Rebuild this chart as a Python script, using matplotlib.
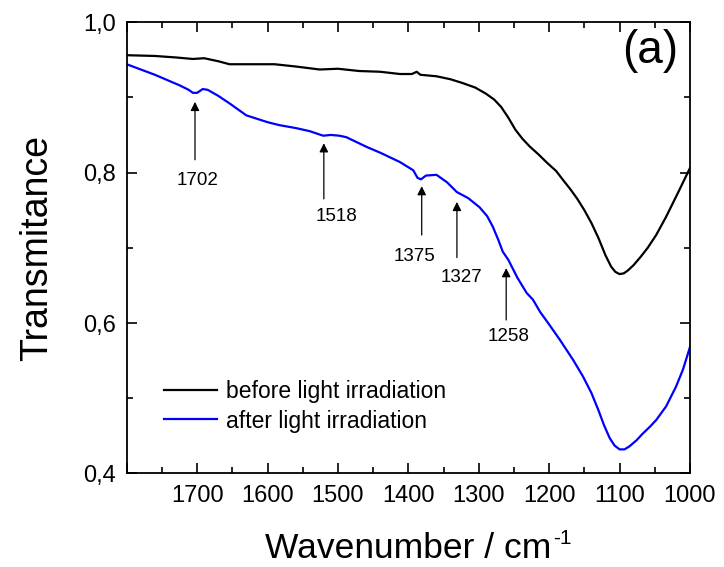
import matplotlib
matplotlib.use("Agg")
import matplotlib.pyplot as plt
from matplotlib.ticker import MultipleLocator, FuncFormatter

plt.rcParams["font.family"] = ["Liberation Sans", "DejaVu Sans"]

# spectrum before irradiation (wavenumber, transmittance)
wn_before = [1800, 1760, 1730, 1706, 1690, 1670, 1654, 1620, 1590, 1560, 1526,
             1500, 1470, 1440, 1412, 1395, 1388, 1383, 1360, 1340, 1323, 1305,
             1290, 1278, 1268, 1258, 1248, 1238, 1228, 1215, 1203, 1190, 1181,
             1170, 1160, 1150, 1140, 1130, 1120, 1112, 1106, 1100, 1094, 1088,
             1080, 1070, 1060, 1048, 1034, 1015, 1000]
t_before = [0.956, 0.955, 0.953, 0.951, 0.952, 0.948, 0.944, 0.944, 0.944, 0.941, 0.937,
            0.938, 0.935, 0.934, 0.931, 0.931, 0.934, 0.930, 0.928, 0.924, 0.919, 0.913,
            0.905, 0.897, 0.887, 0.873, 0.857, 0.845, 0.835, 0.824, 0.813, 0.802, 0.791,
            0.778, 0.765, 0.750, 0.733, 0.713, 0.690, 0.675, 0.668, 0.665, 0.666, 0.670,
            0.677, 0.688, 0.700, 0.717, 0.741, 0.777, 0.806]

# spectrum after irradiation
wn_after = [1800, 1760, 1725, 1712, 1706, 1700, 1692, 1685, 1670, 1654, 1630,
            1600, 1583, 1559, 1540, 1521, 1510, 1498, 1488, 1459, 1439, 1412,
            1393, 1387, 1382, 1375, 1360, 1345, 1331, 1315, 1299, 1288, 1280,
            1272, 1266, 1258, 1245, 1232, 1223, 1213, 1200, 1185, 1166, 1152,
            1140, 1130, 1122, 1114, 1107, 1100, 1093, 1086, 1076, 1067, 1057,
            1048, 1034, 1020, 1010, 1000]
t_after = [0.944, 0.930, 0.916, 0.910, 0.906, 0.906, 0.911, 0.910, 0.902, 0.892, 0.876,
           0.867, 0.863, 0.859, 0.855, 0.849, 0.850, 0.849, 0.847, 0.834, 0.826, 0.814,
           0.803, 0.793, 0.791, 0.796, 0.797, 0.787, 0.774, 0.766, 0.754, 0.742, 0.728,
           0.710, 0.695, 0.684, 0.660, 0.640, 0.631, 0.615, 0.598, 0.578, 0.551, 0.529,
           0.507, 0.484, 0.464, 0.447, 0.437, 0.432, 0.432, 0.436, 0.444, 0.453, 0.462,
           0.471, 0.489, 0.515, 0.538, 0.568]

# peak markers: label, arrow x, tip y, tail y, label x, label y
peak_labels = ["1702", "1518", "1375", "1327", "1258"]
peak_x = [1703, 1520, 1381, 1331, 1261]
peak_tip = [0.894, 0.839, 0.782, 0.761, 0.673]
peak_tail = [0.817, 0.765, 0.717, 0.687, 0.604]
label_x = [1700, 1502, 1391, 1324, 1257]
label_y = [0.790, 0.741, 0.688, 0.661, 0.582]

fig = plt.figure(figsize=(7.24, 5.67), dpi=100)
ax = fig.add_axes([0.175, 0.165, 0.778, 0.796])

ax.plot(wn_before, t_before, color="black", lw=1.6, label="before light irradiation")
ax.plot(wn_after, t_after, color="#0000ff", lw=1.6, label="after light irradiation")

for lab, x, tip, tail, lx, ly in zip(peak_labels, peak_x, peak_tip, peak_tail, label_x, label_y):
    ax.annotate("", xy=(x, tip), xytext=(x, tail),
                arrowprops=dict(arrowstyle="-|>", color="black", lw=0.9,
                                mutation_scale=13, shrinkA=0, shrinkB=0))
    ax.text(lx, ly, lab, ha="center", va="center", fontsize=13.5)

ax.set_xlim(1800, 1000)
ax.set_ylim(0.4, 1.0)
ax.xaxis.set_major_locator(MultipleLocator(100))
ax.xaxis.set_minor_locator(MultipleLocator(50))
ax.yaxis.set_major_locator(MultipleLocator(0.2))
ax.yaxis.set_minor_locator(MultipleLocator(0.1))
ax.yaxis.set_major_formatter(FuncFormatter(lambda v, p: f"{v:.1f}".replace(".", ",")))
ax.xaxis.set_major_formatter(FuncFormatter(lambda v, p: "" if v > 1750 else f"{v:.0f}"))

ax.tick_params(which="both", direction="in", top=True, right=True, labelsize=17, width=1.2)
ax.tick_params(which="major", length=7, pad=8)
ax.tick_params(which="minor", length=4)
for s in ax.spines.values():
    s.set_linewidth(1.3)

ax.set_xlabel("Wavenumber / cm", fontsize=25.5, labelpad=18)
ax.annotate("-1", xy=(1.0, 1.0), xycoords=ax.xaxis.label, xytext=(1, 2),
            textcoords="offset points", ha="left", va="top", fontsize=15)
ax.set_ylabel("Transmitance", fontsize=27, labelpad=20)

ax.text(0.98, 0.985, "(a)", transform=ax.transAxes, ha="right", va="top", fontsize=33)

ax.legend(loc="lower left", bbox_to_anchor=(0.03, 0.045), frameon=False, fontsize=16.5,
          handlelength=2.3, handletextpad=0.4, labelspacing=0.3)

fig.savefig("out.png", dpi=100)
